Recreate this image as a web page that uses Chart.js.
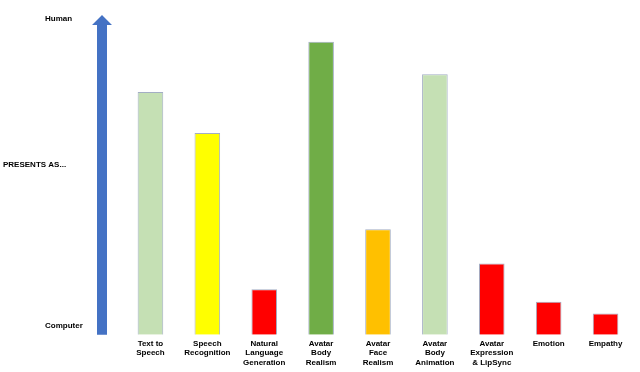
<!DOCTYPE html>
<html>
<head>
<meta charset="utf-8">
<script src="https://cdn.jsdelivr.net/npm/chart.js@4"></script>
<style>
	body { margin: 0; background: #fff; }
	#wrap { width: 640px; height: 372px; position: relative; }
</style>
</head>
<body>
<div id="wrap"><canvas id="presentsChart"></canvas></div>
<script>
// Categories (multi-line x labels)
const categories = [
	['Text to', 'Speech'],
	['Speech', 'Recognition'],
	['Natural', 'Language', 'Generation'],
	['Avatar', 'Body', 'Realism'],
	['Avatar', 'Face', 'Realism'],
	['Avatar', 'Body', 'Animation'],
	['Avatar', 'Expression', '& LipSync'],
	['Emotion'],
	['Empathy']
];

// How human each part presents (0 = Computer, 100 = Human)
const presentsValues = [75.9, 63.1, 14.2, 91.6, 33.0, 81.5, 22.3, 10.3, 6.6];

const barColors = [
	'#c5e0b4', '#ffff00', '#ff0000', '#70ad47', '#ffc000',
	'#c5e0b4', '#ff0000', '#ff0000', '#ff0000'
];

// Side labels and where they sit on the value scale
const sideLabels = ['Human', 'PRESENTS AS...', 'Computer'];
const sideLabelValues = [98.7, 53.1, 2.7];
const sideLabelLeft = [45, 3, 45];

const LABEL_FONT = 'bold 8px "Liberation Sans", Arial, sans-serif';

// Arrow + side labels
const arrowPlugin = {
	id: 'presentsArrow',
	afterDraw(chart) {
		const ctx = chart.ctx;
		const y = chart.scales.y;
		const cx = 102;
		const yBottom = y.getPixelForValue(0);
		const yHead = y.getPixelForValue(96.9);
		const yTip = y.getPixelForValue(100);

		ctx.save();
		ctx.fillStyle = '#4472c4';
		ctx.beginPath();
		ctx.moveTo(cx - 5, yBottom);
		ctx.lineTo(cx - 5, yHead);
		ctx.lineTo(cx - 10, yHead);
		ctx.lineTo(cx, yTip);
		ctx.lineTo(cx + 10, yHead);
		ctx.lineTo(cx + 5, yHead);
		ctx.lineTo(cx + 5, yBottom);
		ctx.closePath();
		ctx.fill();

		ctx.fillStyle = '#000';
		ctx.font = LABEL_FONT;
		ctx.textAlign = 'left';
		ctx.textBaseline = 'middle';
		sideLabels.forEach(function (txt, i) {
			ctx.fillText(txt, sideLabelLeft[i], y.getPixelForValue(sideLabelValues[i]));
		});
		ctx.restore();
	}
};

const ctxPresents = document.getElementById('presentsChart').getContext('2d');

const presentsChart = new Chart(ctxPresents, {
	type: 'bar',
	data: {
		labels: categories,
		datasets: [
			{
				data: presentsValues,
				backgroundColor: barColors,
				borderColor: '#a3aec4',
				borderWidth: 1,
				barPercentage: 0.45,
				categoryPercentage: 1.0,
			},
		],
	},
	options: {
		responsive: true,
		maintainAspectRatio: false,
		animation: false,
		layout: {
			padding: { left: 122, right: 6, top: 15, bottom: 0.5 },
		},
		plugins: {
			legend: { display: false },
			tooltip: { enabled: false },
		},
		scales: {
			x: {
				grid: { display: false, drawTicks: false },
				border: { display: false },
				ticks: {
					color: '#000',
					font: { family: '"Liberation Sans", Arial, sans-serif', size: 8, weight: 'bold', lineHeight: 1.2 },
					padding: 4,
					autoSkip: false,
					maxRotation: 0,
				},
			},
			y: {
				display: false,
				min: 0,
				max: 100,
			},
		},
	},
	plugins: [arrowPlugin],
});
</script>
</body>
</html>
